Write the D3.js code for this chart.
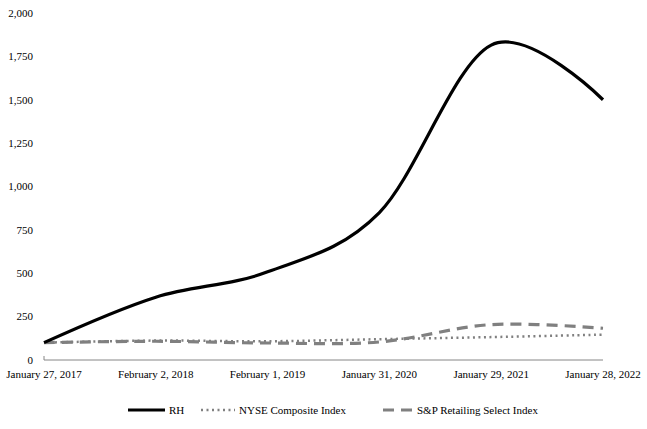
<!DOCTYPE html>
<html>
<head>
<meta charset="utf-8">
<script src="https://cdn.jsdelivr.net/npm/d3@7"></script>
<style>
  body { margin: 0; background: #fff; }
</style>
</head>
<body>
<svg width="647" height="429"></svg>
<script>
const dates = ["January 27, 2017", "February 2, 2018", "February 1, 2019", "January 31, 2020", "January 29, 2021", "January 28, 2022"];
const rh = [100, 362, 508, 850, 1815, 1500];
const nyse = [100, 112, 108, 120, 132, 146];
const retail = [100, 108, 98, 104, 204, 183];
const yTicks = [0, 250, 500, 750, 1000, 1250, 1500, 1750, 2000];

const svg = d3.select("svg");
var g = svg.append("g");

const x = d3.scalePoint()
    .domain(dates)
    .range([44, 603]);

const y = d3.scaleLinear()
    .domain([0, 2000])
    .range([360, 13]);

// y labels, no axis line
g.selectAll(".ylab")
    .data(yTicks)
    .join("text")
    .attr("class", "ylab")
    .attr("x", 33)
    .attr("y", d => y(d))
    .attr("dy", "0.35em")
    .attr("text-anchor", "end")
    .text(d => d3.format(",")(d));

// x axis
g.append("line")
    .attr("x1", x(dates[0])).attr("x2", x(dates[dates.length - 1]))
    .attr("y1", y(0)).attr("y2", y(0))
    .attr("stroke", "#868686").attr("stroke-width", 1);
g.append("line")
    .attr("x1", x(dates[0])).attr("x2", x(dates[0]))
    .attr("y1", y(0) - 4).attr("y2", y(0))
    .attr("stroke", "#868686").attr("stroke-width", 1);

g.selectAll(".xlab")
    .data(dates)
    .join("text")
    .attr("class", "xlab")
    .attr("x", d => x(d))
    .attr("y", 378)
    .attr("text-anchor", "middle")
    .text(d => d);

const line = d3.line()
    .x((d, i) => x(dates[i]))
    .y(d => y(d))
    .curve(d3.curveCardinal.tension(0));

const series = [
    {name: "RH", values: rh, color: "#000", width: 3.2, dash: null, len: 37},
    {name: "NYSE Composite Index", values: nyse, color: "#808080", width: 2.5, dash: "2,3.5", len: 34},
    {name: "S&P Retailing Select Index", values: retail, color: "#808080", width: 3.2, dash: "11,7", len: 30}
];

g.selectAll(".series")
    .data(series.slice().reverse())
    .join("path")
    .attr("class", "series")
    .attr("fill", "none")
    .attr("stroke", d => d.color)
    .attr("stroke-width", d => d.width)
    .attr("stroke-dasharray", d => d.dash)
    .attr("d", d => line(d.values));

// legend
const legendX = [128, 201, 383];
const leg = g.selectAll(".leg")
    .data(series)
    .join("g")
    .attr("class", "leg")
    .attr("transform", (d, i) => `translate(${legendX[i]},410)`);
leg.append("line")
    .attr("x1", 0).attr("x2", d => d.len)
    .attr("stroke", d => d.color)
    .attr("stroke-width", d => d.width)
    .attr("stroke-dasharray", d => d.dash);
leg.append("text")
    .attr("x", d => d.len + 4)
    .attr("dy", "0.35em")
    .text(d => d.name);

svg.selectAll("text")
    .style("font-family", "Liberation Serif")
    .style("font-size", "11px")
    .style("fill", "#000");
</script>
</body>
</html>
